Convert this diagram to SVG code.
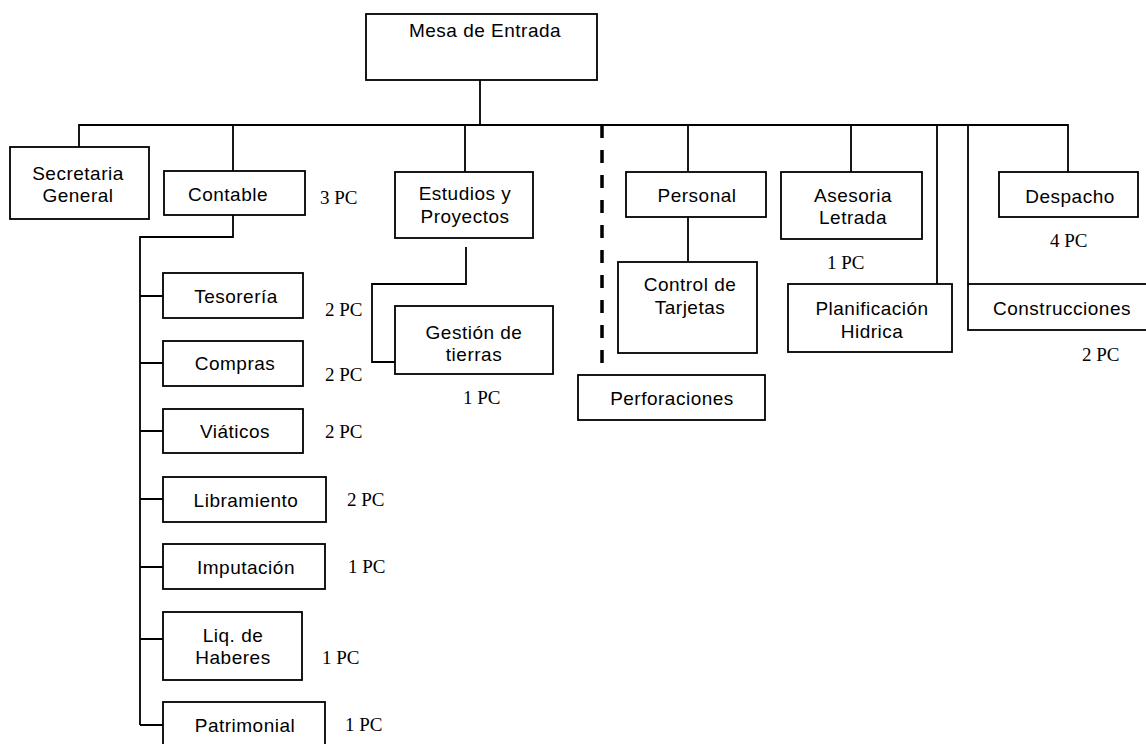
<svg xmlns="http://www.w3.org/2000/svg" width="1146" height="744" viewBox="0 0 1146 744">
<style>
.b{fill:#fff;stroke:#000;stroke-width:1.8}
.t{font-family:"Liberation Sans",Arial,sans-serif;font-size:19px;letter-spacing:0.5px;text-anchor:middle;fill:#000}
.pc{font-family:"Liberation Serif","Times New Roman",serif;font-size:19px;fill:#000}
.c{fill:none;stroke:#000;stroke-width:1.8}
.d{fill:none;stroke:#000;stroke-width:3.5;stroke-dasharray:13 12}
</style>
<rect width="1146" height="744" fill="#fff"/>
<g id="connectors">
<path class="c" d="M480 80V125M79 147V125H1068V172M233 125V171M465 125V172M688 125V172M851 125V172M937 125V284M968 125V284"/>
<path class="c" d="M233 215V237H140V725"/>
<path class="c" d="M140 296H163M140 363H163M140 431H163M140 499H163M140 567H163M140 639H163M140 725H163"/>
<path class="c" d="M466 247V284H372V362H395"/>
<path class="c" d="M688 217V262"/>
<path class="d" d="M602 125V366"/>
</g>
<g id="mesa"><rect class="b" x="366" y="14" width="231" height="66"/><text class="t" x="485" y="37">Mesa de Entrada</text></g>
<g id="secretaria"><rect class="b" x="10" y="147" width="139" height="72"/><text class="t" x="78" y="180">Secretaria</text><text class="t" x="78" y="202">General</text></g>
<g id="contable"><rect class="b" x="164" y="171" width="141" height="44"/><text class="t" x="228" y="201">Contable</text><text class="pc" x="320" y="204">3 PC</text></g>
<g id="estudios"><rect class="b" x="395" y="172" width="138" height="66"/><text class="t" x="465" y="200">Estudios y</text><text class="t" x="465" y="223">Proyectos</text></g>
<g id="gestion"><rect class="b" x="395" y="306" width="158" height="68"/><text class="t" x="474" y="339">Gestión de</text><text class="t" x="474" y="361">tierras</text><text class="pc" x="463" y="404">1 PC</text></g>
<g id="tesoreria"><rect class="b" x="163" y="273" width="140" height="45"/><text class="t" x="236" y="303">Tesorería</text><text class="pc" x="325" y="316">2 PC</text></g>
<g id="compras"><rect class="b" x="163" y="341" width="140" height="45"/><text class="t" x="235" y="370">Compras</text><text class="pc" x="325" y="381">2 PC</text></g>
<g id="viaticos"><rect class="b" x="163" y="409" width="140" height="44"/><text class="t" x="235" y="438">Viáticos</text><text class="pc" x="325" y="438">2 PC</text></g>
<g id="libramiento"><rect class="b" x="163" y="477" width="163" height="45"/><text class="t" x="246" y="507">Libramiento</text><text class="pc" x="347" y="506">2 PC</text></g>
<g id="imputacion"><rect class="b" x="163" y="544" width="162" height="45"/><text class="t" x="246" y="574">Imputación</text><text class="pc" x="348" y="573">1 PC</text></g>
<g id="liquidacion"><rect class="b" x="163" y="612" width="139" height="68"/><text class="t" x="233" y="642">Liq. de</text><text class="t" x="233" y="664">Haberes</text><text class="pc" x="322" y="664">1 PC</text></g>
<g id="patrimonial"><rect class="b" x="163" y="702" width="162" height="50"/><text class="t" x="245" y="732">Patrimonial</text><text class="pc" x="345" y="731">1 PC</text></g>
<g id="personal"><rect class="b" x="626" y="172" width="140" height="45"/><text class="t" x="697" y="202">Personal</text></g>
<g id="control"><rect class="b" x="618" y="262" width="139" height="91"/><text class="t" x="690" y="291">Control de</text><text class="t" x="690" y="314">Tarjetas</text></g>
<g id="perforaciones"><rect class="b" x="578" y="375" width="187" height="45"/><text class="t" x="672" y="405">Perforaciones</text></g>
<g id="asesoria"><rect class="b" x="781" y="172" width="141" height="67"/><text class="t" x="853" y="202">Asesoria</text><text class="t" x="853" y="224">Letrada</text><text class="pc" x="827" y="269">1 PC</text></g>
<g id="planificacion"><rect class="b" x="788" y="284" width="164" height="68"/><text class="t" x="872" y="315">Planificación</text><text class="t" x="872" y="338">Hidrica</text></g>
<g id="despacho"><rect class="b" x="999" y="172" width="139" height="45"/><text class="t" x="1070" y="203">Despacho</text><text class="pc" x="1050" y="247">4 PC</text></g>
<g id="construcciones"><rect class="b" x="968" y="284" width="200" height="46"/><text class="t" x="1062" y="315">Construcciones</text><text class="pc" x="1082" y="361">2 PC</text></g>
</svg>
